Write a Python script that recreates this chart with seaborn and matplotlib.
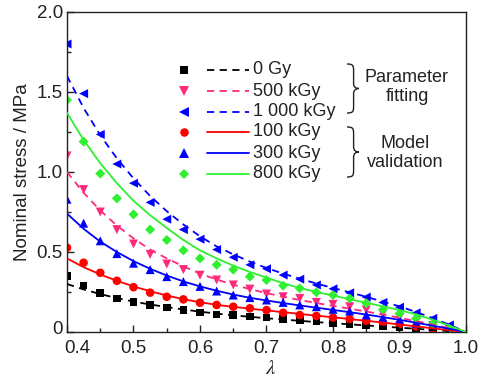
import numpy as np
import pandas as pd
import matplotlib
matplotlib.use("Agg")
import matplotlib.pyplot as plt
import matplotlib.transforms as mtransforms
from matplotlib.path import Path
from matplotlib.patches import PathPatch
from matplotlib.lines import Line2D
import seaborn as sns

# ---------------- data ----------------
lam_pts = [0.400, 0.425, 0.450, 0.475, 0.500, 0.525, 0.550, 0.575, 0.600, 0.625, 0.650, 0.675,
           0.700, 0.725, 0.750, 0.775, 0.800, 0.825, 0.850, 0.875, 0.900, 0.925, 0.950, 0.975]
lam_fit = [0.400, 0.425, 0.450, 0.475, 0.500, 0.525, 0.550, 0.575, 0.600, 0.625, 0.650, 0.675,
           0.700, 0.725, 0.750, 0.775, 0.800, 0.825, 0.850, 0.875, 0.900, 0.925, 0.950, 0.975, 1.000]

pts_0 = [0.35, 0.29, 0.245, 0.21, 0.186, 0.169, 0.154, 0.138, 0.123, 0.110, 0.106, 0.096,
         0.090, 0.083, 0.075, 0.065, 0.054, 0.048, 0.044, 0.035, 0.030, 0.020, 0.012, 0.005]
pts_500 = [1.10, 0.89, 0.75, 0.64, 0.55, 0.485, 0.425, 0.39, 0.355, 0.325, 0.294, 0.268,
           0.237, 0.22, 0.21, 0.185, 0.173, 0.158, 0.138, 0.115, 0.09, 0.065, 0.04, 0.015]
pts_1000 = [1.80, 1.49, 1.235, 1.05, 0.93, 0.81, 0.705, 0.64, 0.58, 0.515, 0.467, 0.42,
            0.395, 0.356, 0.33, 0.294, 0.27, 0.245, 0.218, 0.185, 0.155, 0.12, 0.085, 0.044]
pts_100 = [0.527, 0.433, 0.37, 0.32, 0.28, 0.246, 0.22, 0.204, 0.183, 0.169, 0.158, 0.148,
           0.137, 0.12, 0.106, 0.1, 0.09, 0.081, 0.069, 0.06, 0.05, 0.035, 0.02, 0.01]
pts_300 = [0.83, 0.68, 0.57, 0.49, 0.43, 0.39, 0.346, 0.315, 0.285, 0.256, 0.231, 0.215,
           0.2, 0.185, 0.169, 0.158, 0.142, 0.131, 0.106, 0.09, 0.075, 0.055, 0.035, 0.015]
pts_800 = [1.45, 1.19, 0.99, 0.835, 0.735, 0.64, 0.575, 0.51, 0.46, 0.42, 0.39, 0.346,
           0.325, 0.29, 0.273, 0.248, 0.231, 0.21, 0.18, 0.14, 0.115, 0.085, 0.05, 0.02]

fit_0 = [0.30, 0.266, 0.237, 0.212, 0.19, 0.172, 0.156, 0.141, 0.127, 0.115, 0.104, 0.095,
         0.086, 0.078, 0.07, 0.062, 0.055, 0.048, 0.041, 0.034, 0.027, 0.02, 0.013, 0.006, 0.0]
fit_500 = [1.0, 0.87, 0.76, 0.665, 0.585, 0.515, 0.46, 0.41, 0.365, 0.328, 0.296, 0.268,
           0.243, 0.221, 0.2, 0.181, 0.163, 0.146, 0.128, 0.109, 0.089, 0.068, 0.046, 0.023, 0.0]
fit_1000 = [1.6, 1.40, 1.23, 1.085, 0.96, 0.85, 0.755, 0.672, 0.598, 0.535, 0.485, 0.44,
            0.40, 0.365, 0.333, 0.303, 0.275, 0.248, 0.22, 0.19, 0.16, 0.125, 0.087, 0.045, 0.0]
fit_100 = [0.46, 0.405, 0.36, 0.32, 0.285, 0.255, 0.228, 0.205, 0.186, 0.17, 0.157, 0.146,
           0.135, 0.124, 0.113, 0.102, 0.092, 0.081, 0.07, 0.059, 0.047, 0.035, 0.023, 0.011, 0.0]
fit_300 = [0.74, 0.645, 0.565, 0.5, 0.443, 0.395, 0.353, 0.316, 0.285, 0.258, 0.234, 0.214,
           0.197, 0.181, 0.166, 0.152, 0.138, 0.124, 0.109, 0.093, 0.076, 0.058, 0.039, 0.02, 0.0]
fit_800 = [1.37, 1.2, 1.055, 0.93, 0.82, 0.73, 0.65, 0.575, 0.51, 0.46, 0.415, 0.375,
           0.34, 0.305, 0.275, 0.25, 0.228, 0.205, 0.183, 0.16, 0.137, 0.11, 0.077, 0.04, 0.0]

series_labels = ["0 Gy", "500 kGy", "1 000 kGy", "100 kGy", "300 kGy", "800 kGy"]
group_labels = ["Parameter\nfitting", "Model\nvalidation"]
x_ticks = [0.4, 0.5, 0.6, 0.7, 0.8, 0.9, 1.0]
x_ticklabels = ["0.4", "0.5", "0.6", "0.7", "0.8", "0.9", "1.0"]
y_ticks = [0.0, 0.5, 1.0, 1.5, 2.0]
y_ticklabels = ["0", "0.5", "1.0", "1.5", "2.0"]

# ---------------- style ----------------
sns.set_style("ticks")
plt.rcParams["font.family"] = ["Liberation Sans", "DejaVu Sans"]
plt.rcParams["mathtext.fontset"] = "stix"

BLACK = "#000000"
PINK = "#FF2A7A"
BLUE = "#0000FF"
RED = "#FF0000"
GREEN = "#2EF02E"
DASH = (0, (4, 3))

specs = [
    (pts_0, fit_0, "s", 30, BLACK, DASH),
    (pts_500, fit_500, "v", 42, PINK, DASH),
    (pts_1000, fit_1000, "<", 42, BLUE, DASH),
    (pts_100, fit_100, "o", 38, RED, "-"),
    (pts_300, fit_300, "^", 42, BLUE, "-"),
    (pts_800, fit_800, "D", 26, GREEN, "-"),
]

W, H = 478, 378
fig = plt.figure(figsize=(W / 100, H / 100), dpi=100)
L, R, T, B = 67, 466, 12, 332
ax = fig.add_axes([L / W, 1 - B / H, (R - L) / W, (B - T) / H])

for pts, fit, mk, s, col, ls in specs:
    sns.lineplot(x=lam_fit, y=fit, color=col, linestyle=ls, linewidth=1.3, ax=ax,
                 zorder=3, estimator=None, sort=False)
    sns.scatterplot(x=lam_pts, y=pts, marker=mk, s=s, color=col, edgecolor="none",
                    linewidth=0, ax=ax, zorder=2, clip_on=True)

ax.set_xlim(0.4, 1.0)
ax.set_ylim(0, 2.0)
ax.set_xticks(x_ticks)
ax.set_xticklabels(x_ticklabels)
ax.set_yticks(y_ticks)
ax.set_yticklabels(y_ticklabels)
ax.set_xticks([0.45, 0.55, 0.65, 0.75, 0.85, 0.95], minor=True)
ax.set_yticks([0.25, 0.75, 1.25, 1.75], minor=True)
ax.tick_params(axis="both", which="major", direction="in", length=5, width=1,
               labelsize=13.5, colors="#222222", labelcolor="#222222")
ax.tick_params(axis="both", which="minor", direction="in", length=3, width=1, colors="#222222")
ax.tick_params(axis="x", which="major", pad=6)
ax.tick_params(axis="y", which="major", pad=3)
for sp in ax.spines.values():
    sp.set_visible(True)
    sp.set_linewidth(1.0)
    sp.set_color("#222222")

# nudge first tick labels like the reference
lab0 = ax.xaxis.get_major_ticks()[0].label1
lab0.set_transform(lab0.get_transform() + mtransforms.ScaledTranslation(10 / 100, 0, fig.dpi_scale_trans))
laby0 = ax.yaxis.get_major_ticks()[0].label1
laby0.set_transform(laby0.get_transform() + mtransforms.ScaledTranslation(0, 5 / 100, fig.dpi_scale_trans))

ax.set_xlabel(r"$\lambda$", fontsize=15, color="#222222")
ax.xaxis.set_label_coords(0.51, -0.085)
ax.set_ylabel("Nominal stress / MPa", fontsize=13.5, labelpad=4, color="#222222")

# ---------------- custom legend ----------------
def fx(px):
    return px / W

def fy(py):
    return 1 - py / H

rows_y = [70, 91, 112, 132, 153, 174]
for (pts, fit, mk, s, col, ls), lab, py in zip(specs, series_labels, rows_y):
    fig.add_artist(Line2D([fx(184)], [fy(py)], marker=mk, markersize=np.sqrt(s),
                          color=col, markeredgewidth=0, linestyle="none"))
    fig.add_artist(Line2D([fx(207), fx(249)], [fy(py), fy(py)], color=col,
                          linestyle=ls, linewidth=1.3))
    fig.text(fx(253), fy(py), lab, fontsize=13, va="center", ha="left", color="#222222")


def brace(x0, ytop, ybot, w):
    h = ybot - ytop
    ym = (ytop + ybot) / 2
    xm = x0 + w * 0.55
    pts_ = [
        (x0, ytop),
        (xm, ytop), (xm, ytop + 0.04 * h), (xm, ytop + 0.15 * h),
        (xm, ym - 0.1 * h),
        (xm, ym - 0.02 * h), (x0 + w * 0.8, ym), (x0 + w, ym),
        (x0 + w * 0.8, ym), (xm, ym + 0.02 * h), (xm, ym + 0.1 * h),
        (xm, ybot - 0.15 * h),
        (xm, ybot - 0.04 * h), (xm, ybot), (x0, ybot),
    ]
    codes = [Path.MOVETO,
             Path.CURVE4, Path.CURVE4, Path.CURVE4,
             Path.LINETO,
             Path.CURVE4, Path.CURVE4, Path.CURVE4,
             Path.CURVE4, Path.CURVE4, Path.CURVE4,
             Path.LINETO,
             Path.CURVE4, Path.CURVE4, Path.CURVE4]
    verts = [(fx(a), fy(b)) for a, b in pts_]
    patch = PathPatch(Path(verts, codes), facecolor="none", edgecolor="#222222",
                      linewidth=1.0, transform=fig.transFigure)
    fig.add_artist(patch)


brace(347, 64, 113, 12)
brace(347, 127, 177, 12)
fig.text(fx(407), fy(87), group_labels[0], fontsize=13, ha="center", va="center",
         linespacing=1.1, color="#222222")
fig.text(fx(405), fy(153), group_labels[1], fontsize=13, ha="center", va="center",
         linespacing=1.1, color="#222222")

fig.savefig("out.png", dpi=100)
